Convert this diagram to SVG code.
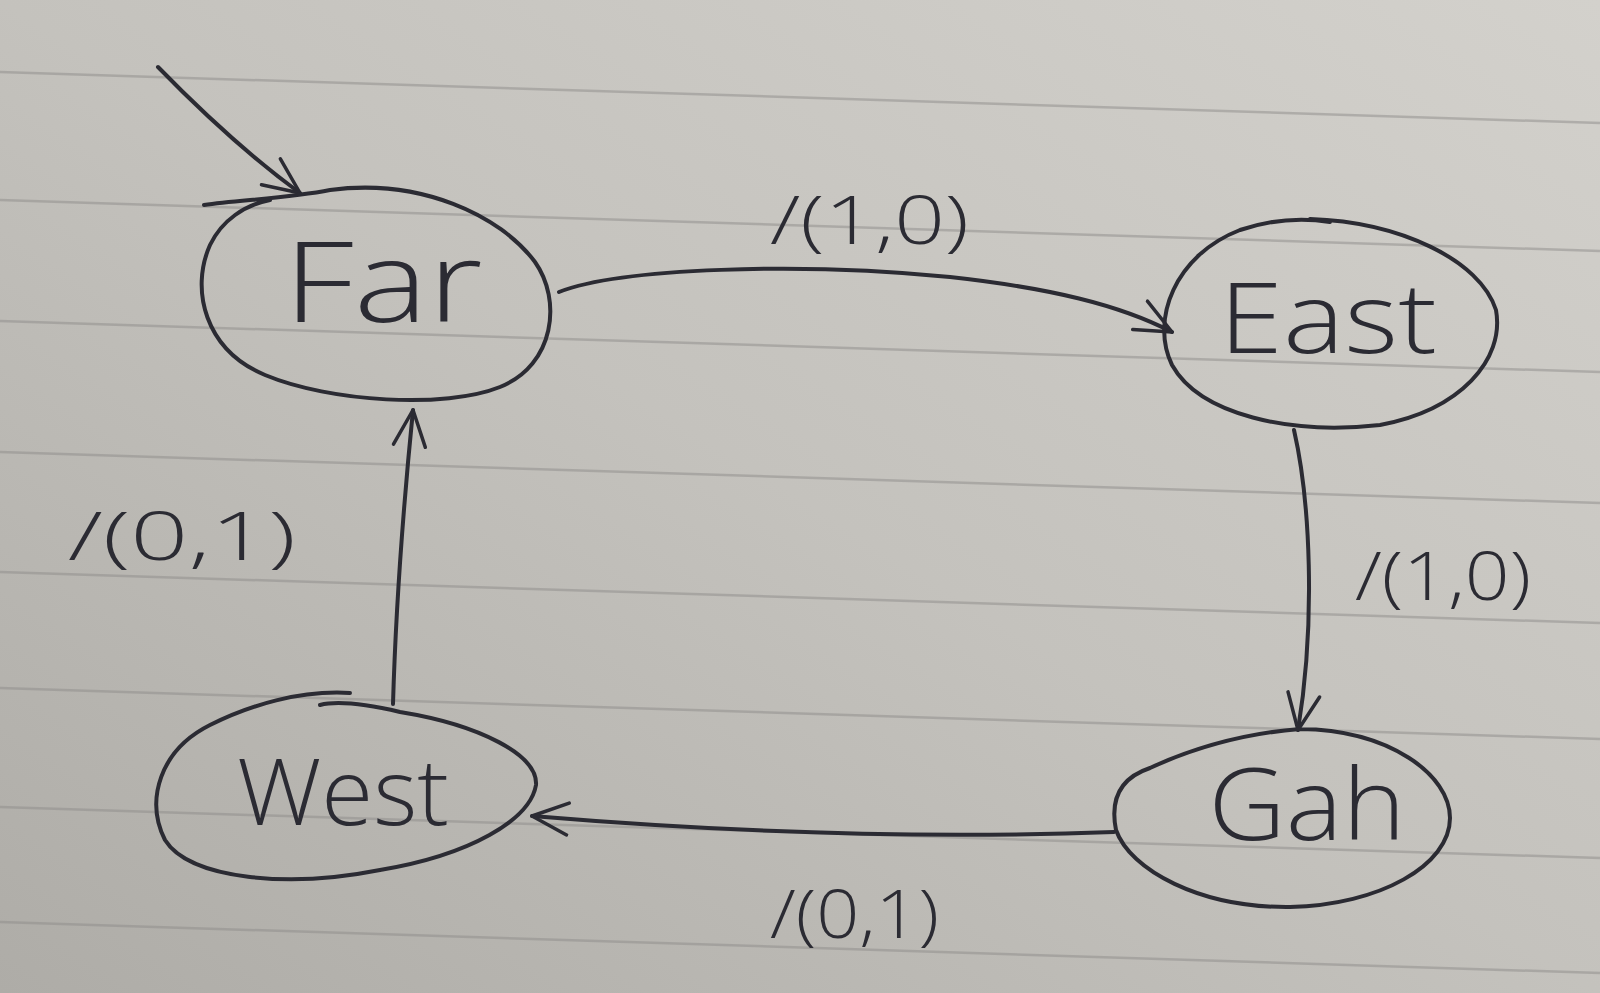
<svg xmlns="http://www.w3.org/2000/svg" width="1600" height="993" viewBox="0 0 1600 993">
  <defs>
    <linearGradient id="paper" x1="1" y1="0" x2="0" y2="1">
      <stop offset="0" stop-color="#d3d1cc"/>
      <stop offset="0.5" stop-color="#c4c2bd"/>
      <stop offset="1" stop-color="#aeaca7"/>
    </linearGradient>
    <marker id="arrow" viewBox="0 0 40 40" refX="38" refY="20" markerWidth="40" markerHeight="40" markerUnits="userSpaceOnUse" orient="auto">
      <path d="M2,4 L38,20 L2,36" fill="none" stroke="#2b2b33" stroke-width="3.5" stroke-linecap="round" stroke-linejoin="round"/>
    </marker>
  </defs>
  <style>
    .ink { fill: none; stroke: #2b2b33; stroke-width: 4; stroke-linecap: round; stroke-linejoin: round; }
    .rule { stroke: #8f8d8b; stroke-width: 2.5; opacity: 0.5; }
    .name { font-family: "Open Sans", "Liberation Sans", sans-serif; font-weight: 300; fill: #2b2b33; text-anchor: middle; }
    .lbl { font-family: "Open Sans", "Liberation Sans", sans-serif; font-weight: 300; fill: #2b2b33; font-size: 66px; }
  </style>

  <rect x="0" y="0" width="1600" height="993" fill="url(#paper)"/>

  <g id="paper-lines">
    <line class="rule" x1="0" y1="72" x2="1600" y2="123"/>
    <line class="rule" x1="0" y1="200" x2="1600" y2="251"/>
    <line class="rule" x1="0" y1="321" x2="1600" y2="372"/>
    <line class="rule" x1="0" y1="452" x2="1600" y2="503"/>
    <line class="rule" x1="0" y1="572" x2="1600" y2="623"/>
    <line class="rule" x1="0" y1="688" x2="1600" y2="739"/>
    <line class="rule" x1="0" y1="807" x2="1600" y2="858"/>
    <line class="rule" x1="0" y1="922" x2="1600" y2="973"/>
  </g>

  <g id="connectors">
    <path id="e-start" class="ink" d="M158,67 C195,105 248,155 300,193" marker-end="url(#arrow)"/>
    <path id="e-far-east" class="ink" d="M559,292 C620,268 800,262 950,277 C1050,288 1120,305 1172,332" marker-end="url(#arrow)"/>
    <path id="e-east-gah" class="ink" d="M1294,430 C1310,500 1316,620 1298,730" marker-end="url(#arrow)"/>
    <path id="e-gah-west" class="ink" d="M1114,832 C900,840 700,830 532,816" marker-end="url(#arrow)"/>
    <path id="e-west-far" class="ink" d="M393,704 C396,600 404,500 413,410" marker-end="url(#arrow)"/>
    <text class="lbl" x="770" y="244" textLength="199" lengthAdjust="spacingAndGlyphs">/(1,0)</text>
    <text class="lbl" x="1355" y="600" textLength="176" lengthAdjust="spacingAndGlyphs">/(1,0)</text>
    <text class="lbl" x="770" y="938" textLength="169" lengthAdjust="spacingAndGlyphs">/(0,1)</text>
    <text class="lbl" x="68" y="560" font-size="92" textLength="228" lengthAdjust="spacingAndGlyphs">/(0,1)</text>
  </g>

  <g id="node-far">
    <path class="ink" d="M204,205 C240,200 290,198 330,190 C420,178 500,215 535,262 C562,300 555,365 500,387 C445,409 330,402 265,375 C205,350 190,290 210,245 C222,220 245,205 270,200"/>
    <text class="name" x="383" y="322" font-size="112" textLength="199" lengthAdjust="spacingAndGlyphs">Far</text>
  </g>

  <g id="node-east">
    <path class="ink" d="M1310,219 C1400,222 1480,260 1496,310 C1505,360 1460,410 1380,425 C1290,435 1200,415 1172,365 C1150,320 1175,255 1240,230 C1270,220 1300,217 1330,222"/>
    <text class="name" x="1328" y="353" font-size="98" textLength="218" lengthAdjust="spacingAndGlyphs">East</text>
  </g>

  <g id="node-gah">
    <path class="ink" d="M1300,729 C1390,730 1450,775 1450,818 C1450,865 1380,905 1290,907 C1200,908 1130,870 1116,830 C1110,800 1120,778 1150,768 C1200,745 1250,733 1300,729"/>
    <text class="name" x="1307" y="840" font-size="100" textLength="197" lengthAdjust="spacingAndGlyphs">Gah</text>
  </g>

  <g id="node-west">
    <path class="ink" d="M350,693 C300,690 250,705 210,725 C160,750 145,800 165,840 C190,880 290,888 380,870 C470,855 530,820 536,785 C538,755 480,725 400,712 C370,705 340,700 320,705"/>
    <text class="name" x="343" y="825" font-size="92" textLength="212" lengthAdjust="spacingAndGlyphs">West</text>
  </g>
</svg>
